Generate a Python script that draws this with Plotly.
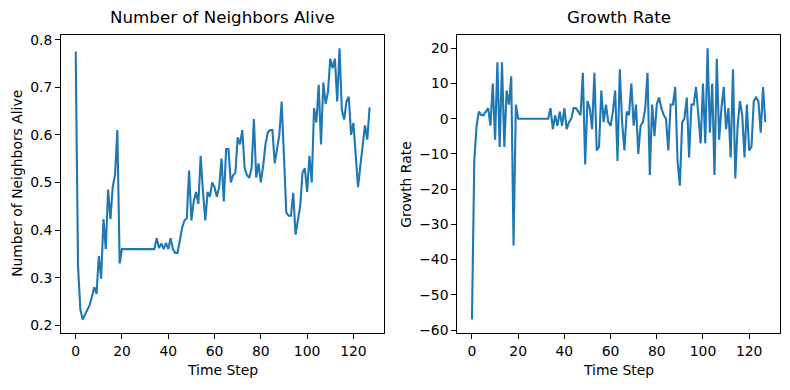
import plotly.graph_objects as go

time_step = list(range(128))

neighbors_alive = [
    0.775, 0.325, 0.234, 0.212, 0.222, 0.232, 0.242, 0.26, 0.28, 0.266,
    0.345, 0.298, 0.423, 0.36, 0.485, 0.423, 0.49, 0.516, 0.61, 0.33,
    0.36, 0.36, 0.36, 0.36, 0.36, 0.36, 0.36, 0.36, 0.36, 0.36,
    0.36, 0.36, 0.36, 0.36, 0.36, 0.383, 0.362, 0.372, 0.36, 0.373,
    0.36, 0.383, 0.36, 0.352, 0.352, 0.378, 0.405, 0.42, 0.425, 0.525,
    0.42, 0.46, 0.48, 0.455, 0.556, 0.48, 0.42, 0.48, 0.47, 0.5,
    0.49, 0.47, 0.49, 0.55, 0.46, 0.57, 0.57, 0.5, 0.515, 0.52,
    0.595, 0.58, 0.61, 0.53, 0.515, 0.51, 0.53, 0.633, 0.51, 0.54,
    0.5, 0.535, 0.58, 0.605, 0.61, 0.61, 0.54, 0.57, 0.6, 0.67,
    0.56, 0.437, 0.43, 0.43, 0.478, 0.39, 0.42, 0.45, 0.52, 0.53,
    0.48, 0.556, 0.5, 0.656, 0.626, 0.705, 0.58, 0.71, 0.665, 0.69,
    0.76, 0.74, 0.76, 0.67, 0.782, 0.652, 0.632, 0.67, 0.68, 0.6,
    0.625, 0.55, 0.49, 0.535, 0.58, 0.62, 0.59, 0.658,
]

growth_rate = [
    -57, -12, -2, 2, 1, 1, 2, 3, -2, 10,
    -6, 16, -8, 16, -8, 8, 4, 12, -36, 4,
    0, 0, 0, 0, 0, 0, 0, 0, 0, 0,
    0, 0, 0, 0, 3, -3, 1, -2, 2, -2,
    3, -3, -1, 0, 3, 3, 2, 1, 13, -13,
    5, 3, -3, 13, -9, -8, 8, -1, 4, -1,
    -2, 2, 8, -12, 14, -1, -9, 2, 1, 10,
    -2, 4, -10, -2, -1, 3, 13, -16, 4, -5,
    4, 6, 3, 1, 0, -9, 4, 4, 9, -12,
    -19, -1, 0, 6, -11, 4, 4, 9, 1, -7,
    10, -7, 20, -4, 10, -16, 17, -6, 3, 9,
    -3, 3, -11, 14, -17, -2, 5, 1, -11, 4,
    -9, -8, 5, 6, 5, -4, 9, -1,
]

titles = ["Number of Neighbors Alive", "Growth Rate"]
x_label = "Time Step"
y_labels = ["Number of Neighbors Alive", "Growth Rate"]

LINE = "#1f77b4"
FONT = "DejaVu Sans"
W, H = 790, 390


def mpl_range(vals):
    lo, hi = min(vals), max(vals)
    m = (hi - lo) * 0.05
    return [lo - m, hi + m]


# axes boxes in pixels (left, right, top, bottom)
boxes = [(61, 384.3, 32.3, 337.0), (457.3, 780.0, 32.3, 337.0)]

fig = go.Figure()
fig.add_trace(go.Scatter(x=time_step, y=neighbors_alive, mode="lines",
                         line=dict(color=LINE, width=2.1), xaxis="x", yaxis="y",
                         showlegend=False))
fig.add_trace(go.Scatter(x=time_step, y=growth_rate, mode="lines",
                         line=dict(color=LINE, width=2.1), xaxis="x2", yaxis="y2",
                         showlegend=False))

axis_common = dict(
    showline=True, linecolor="black", linewidth=1.1, mirror=True,
    ticks="outside", ticklen=4.9, tickwidth=1.1, tickcolor="black",
    showgrid=False, zeroline=False,
    tickfont=dict(family=FONT, size=13.9, color="black"),
)

xr = mpl_range(time_step)
layout = dict(
    width=W, height=H,
    margin=dict(l=0, r=0, t=0, b=0),
    paper_bgcolor="white", plot_bgcolor="white",
    font=dict(family=FONT, color="black"),
)

annotations = []
for i, (l, r, t, b) in enumerate(boxes):
    sx = "" if i == 0 else "2"
    yvals = neighbors_alive if i == 0 else growth_rate
    layout["xaxis" + sx] = dict(
        axis_common, domain=[l / W, r / W], range=xr, anchor="y" + sx,
        tickvals=[0, 20, 40, 60, 80, 100, 120],
    )
    if i == 0:
        ytv = [0.2, 0.3, 0.4, 0.5, 0.6, 0.7, 0.8]
        ytt = ["0.2", "0.3", "0.4", "0.5", "0.6", "0.7", "0.8"]
    else:
        ytv = [-60, -50, -40, -30, -20, -10, 0, 10, 20]
        ytt = ["\u221260", "\u221250", "\u221240", "\u221230", "\u221220", "\u221210", "0", "10", "20"]
    layout["yaxis" + sx] = dict(
        axis_common, domain=[(H - b) / H, (H - t) / H], range=mpl_range(yvals),
        anchor="x" + sx, tickvals=ytv, ticktext=ytt,
    )
    cx = (l + r) / 2 / W
    annotations.append(dict(text=titles[i], x=cx, y=(H - 14) / H, xref="paper", yref="paper",
                            showarrow=False, xanchor="center", yanchor="middle",
                            font=dict(family=FONT, size=16.7, color="black")))
    annotations.append(dict(text=x_label, x=cx, y=(H - 375) / H, xref="paper", yref="paper",
                            showarrow=False, xanchor="center", yanchor="middle",
                            font=dict(family=FONT, size=13.9, color="black")))
    ylx = 17 if i == 0 else 406
    annotations.append(dict(text=y_labels[i], x=ylx / W, y=((H - b) + (H - t)) / 2 / H,
                            xref="paper", yref="paper", showarrow=False, textangle=-90,
                            xanchor="center", yanchor="middle",
                            font=dict(family=FONT, size=13.9, color="black")))

layout["annotations"] = annotations
fig.update_layout(**layout)
fig.write_html("out.html", config={"displayModeBar": False},
               post_script="document.body.style.margin='0';document.body.style.overflow='hidden';")
